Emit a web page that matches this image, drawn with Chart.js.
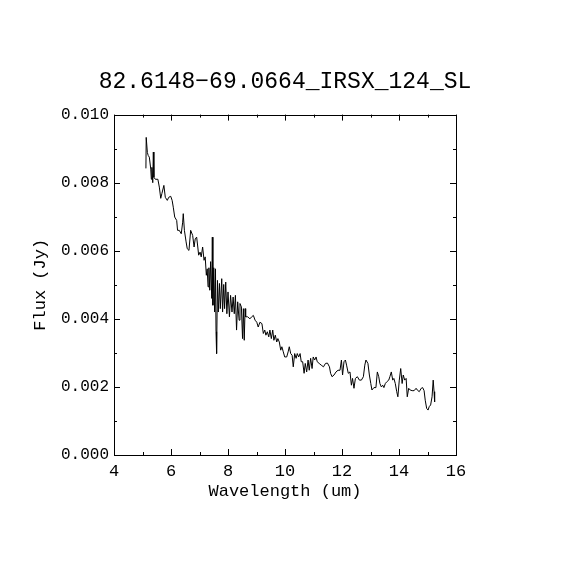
<!DOCTYPE html>
<html>
<head>
<meta charset="utf-8">
<script src="https://cdn.jsdelivr.net/npm/chart.js@4.4.1/dist/chart.umd.min.js"></script>
<style>
  html, body { margin: 0; padding: 0; background: #fff; }
  canvas { display: block; }
</style>
</head>
<body>
<canvas id="spec" width="570" height="570"></canvas>
<script>
// spectrum: wavelength (um) and flux (Jy)
var wavelength = [5.12,5.13,5.17,5.20,5.24,5.29,5.31,5.33,5.36,5.38,5.40,5.45,5.54,5.59,5.64,5.68,5.75,5.80,5.87,5.92,
  5.99,6.04,6.08,6.13,6.20,6.23,6.29,6.36,6.41,6.43,6.47,6.53,6.57,6.63,6.69,6.76,6.81,6.85,6.90,6.94,
  6.97,7.02,7.06,7.11,7.16,7.20,7.24,7.27,7.30,7.33,7.36,7.39,7.43,7.45,7.47,7.50,7.53,7.56,7.58,7.60,
  7.63,7.66,7.70,7.73,7.78,7.81,7.85,7.88,7.92,7.96,8.00,8.05,8.09,8.14,8.18,8.22,8.26,8.30,8.34,8.39,
  8.42,8.47,8.51,8.54,8.57,8.60,8.62,8.69,8.77,8.83,8.89,8.95,9.01,9.06,9.12,9.19,9.24,9.29,9.33,9.38,
  9.43,9.47,9.52,9.57,9.61,9.66,9.71,9.75,9.80,9.85,9.89,9.94,9.99,10.06,10.11,10.15,
  10.20,10.25,10.29,10.34,10.39,10.43,10.48,10.53,10.57,10.62,10.67,10.71,10.76,10.81,10.85,10.90,10.95,10.99,
  11.04,11.09,11.13,11.20,11.27,11.35,11.42,11.49,11.56,11.60,11.65,11.72,11.79,11.86,11.93,11.98,
  12.02,12.07,12.12,12.16,12.22,12.28,12.33,12.37,12.42,12.47,12.54,12.61,12.68,12.75,12.80,12.84,12.91,12.96,
  13.01,13.05,13.12,13.19,13.24,13.29,13.33,13.38,13.43,13.47,13.52,13.57,13.64,13.68,13.73,13.78,13.82,13.87,13.92,13.96,
  14.01,14.06,14.11,14.15,14.20,14.25,14.29,14.34,14.39,14.46,14.53,14.60,14.64,14.71,14.78,14.83,14.88,14.92,14.97,
  15.02,15.06,15.11,15.16,15.20,15.23,15.25];

var flux = [0.00842,0.00933,0.00889,0.00880,0.00875,0.00840,0.00810,0.00845,0.00800,0.00890,0.00816,0.00810,0.00810,0.00787,0.00754,0.00768,0.00792,0.00757,0.00748,0.00757,
  0.00760,0.00748,0.00728,0.00699,0.00689,0.00660,0.00660,0.00650,0.00684,0.00709,0.00660,0.00626,0.00606,0.00601,0.00660,0.00645,0.00611,0.00635,0.00640,0.00611,
  0.00587,0.00596,0.00582,0.00611,0.00572,0.00582,0.00528,0.00547,0.00494,0.00550,0.00484,0.00568,0.00460,0.00640,0.00440,0.00550,0.00420,0.00547,0.00362,0.00298,
  0.00513,0.00420,0.00504,0.00430,0.00518,0.00420,0.00501,0.00430,0.00508,0.00415,0.00479,0.00406,0.00469,0.00420,0.00464,0.00415,0.00469,0.00367,0.00450,0.00396,
  0.00445,0.00435,0.00342,0.00430,0.00337,0.00430,0.00406,0.00406,0.00400,0.00406,0.00410,0.00396,0.00390,0.00376,0.00390,0.00386,0.00357,0.00367,0.00352,0.00362,
  0.00347,0.00367,0.00342,0.00367,0.00337,0.00352,0.00332,0.00342,0.00332,0.00308,0.00318,0.00303,0.00288,0.00288,0.00303,0.00318,
  0.00298,0.00293,0.00259,0.00298,0.00284,0.00298,0.00288,0.00298,0.00274,0.00274,0.00240,0.00269,0.00244,0.00279,0.00249,0.00284,0.00254,0.00288,
  0.00279,0.00288,0.00274,0.00269,0.00264,0.00259,0.00269,0.00270,0.00259,0.00240,0.00230,0.00235,0.00244,0.00249,0.00249,0.00279,
  0.00235,0.00274,0.00279,0.00264,0.00240,0.00244,0.00205,0.00225,0.00196,0.00225,0.00230,0.00220,0.00220,0.00230,0.00264,0.00279,0.00269,0.00235,
  0.00210,0.00191,0.00198,0.00198,0.00244,0.00230,0.00210,0.00200,0.00205,0.00198,0.00210,0.00215,0.00220,0.00230,0.00244,0.00220,0.00225,0.00210,0.00186,0.00171,
  0.00220,0.00254,0.00210,0.00235,0.00220,0.00225,0.00171,0.00196,0.00191,0.00189,0.00189,0.00196,0.00191,0.00186,0.00196,0.00198,0.00189,0.00161,0.00137,
  0.00132,0.00142,0.00147,0.00171,0.00220,0.00186,0.00156];

var xRange = [4, 16];
var yRange = [0, 0.010];
var xLabelEvery = 2;        // labelled ticks on x, minor ones every 1
var yLabelEvery = 0.002;    // labelled ticks on y, minor ones every 0.001

var plotTitle = "82.6148\u221269.0664_IRSX_124_SL";
var xTitle = "Wavelength (um)";
var yTitle = "Flux (Jy)";

var fontFamily = "'Liberation Mono', 'DejaVu Sans Mono', monospace";

function isMajor(v, every) {
    var r = v / every;
    return Math.abs(r - Math.round(r)) < 1e-6;
}

// inward tick marks on all four sides, plus the frame
var frameTicks = {
    id: 'frameTicks',
    afterDraw: function(chart) {
        var ctx = chart.ctx;
        var a = chart.chartArea;
        var xs = chart.scales.x;
        var ys = chart.scales.y;
        ctx.save();
        ctx.strokeStyle = '#000';
        ctx.lineWidth = 1;
        ctx.beginPath();
        xs.ticks.forEach(function(t) {
            var px = Math.round(xs.getPixelForValue(t.value)) + 0.5;
            var len = isMajor(t.value, xLabelEvery) ? 6 : 3;
            ctx.moveTo(px, a.bottom); ctx.lineTo(px, a.bottom - len);
            ctx.moveTo(px, a.top); ctx.lineTo(px, a.top + len);
        });
        ys.ticks.forEach(function(t) {
            var py = Math.round(ys.getPixelForValue(t.value)) + 0.5;
            var len = isMajor(t.value, yLabelEvery) ? 6 : 3;
            ctx.moveTo(a.left, py); ctx.lineTo(a.left + len, py);
            ctx.moveTo(a.right, py); ctx.lineTo(a.right - len, py);
        });
        ctx.stroke();
        ctx.strokeRect(Math.round(a.left) + 0.5, Math.round(a.top) + 0.5,
                       Math.round(a.right - a.left), Math.round(a.bottom - a.top));
        ctx.restore();
    }
};

var points = wavelength.map(function(w, i) { return {x: w, y: flux[i]}; });

new Chart(document.getElementById('spec'), {
    type: 'line',
    data: {
        datasets: [{
            data: points,
            borderColor: '#000',
            borderWidth: 1,
            pointRadius: 0,
            tension: 0,
            fill: false
        }]
    },
    options: {
        responsive: false,
        animation: false,
        devicePixelRatio: 1,
        layout: { padding: { top: 68, left: 0, right: 0, bottom: 55 } },
        plugins: {
            legend: { display: false },
            tooltip: { enabled: false },
            title: {
                display: true,
                text: plotTitle,
                color: '#000',
                font: { family: fontFamily, size: 23, weight: 'normal' },
                padding: { top: 0, bottom: 19 }
            }
        },
        scales: {
            x: {
                type: 'linear',
                min: xRange[0],
                max: xRange[1],
                afterFit: function(scale) { scale.height = 60; },
                grid: { display: false, drawTicks: false },
                border: { display: false },
                ticks: {
                    stepSize: 1,
                    padding: 6,
                    maxRotation: 0,
                    autoSkip: false,
                    color: '#000',
                    font: { family: fontFamily, size: 17 },
                    callback: function(v) { return isMajor(v, xLabelEvery) ? String(v) : ''; }
                },
                title: {
                    display: true,
                    text: xTitle,
                    color: '#000',
                    font: { family: fontFamily, size: 17 },
                    padding: { top: 0, bottom: 13 }
                }
            },
            y: {
                type: 'linear',
                min: yRange[0],
                max: yRange[1],
                afterFit: function(scale) { scale.width = 114; },
                grid: { display: false, drawTicks: false },
                border: { display: false },
                ticks: {
                    stepSize: 0.001,
                    padding: 5,
                    autoSkip: false,
                    color: '#000',
                    font: { family: fontFamily, size: 16 },
                    callback: function(v) { return isMajor(v, yLabelEvery) ? v.toFixed(3) : ''; }
                },
                title: {
                    display: true,
                    text: yTitle,
                    color: '#000',
                    font: { family: fontFamily, size: 17 },
                    padding: { top: 30, bottom: 0 }
                }
            },
            // empty right-hand axis, only keeps the plot box where the reference has it
            yRight: {
                type: 'linear',
                position: 'right',
                min: yRange[0],
                max: yRange[1],
                afterFit: function(scale) { scale.width = 114; },
                grid: { display: false, drawTicks: false },
                border: { display: false },
                ticks: { display: false }
            }
        }
    },
    plugins: [frameTicks]
});
</script>
</body>
</html>
